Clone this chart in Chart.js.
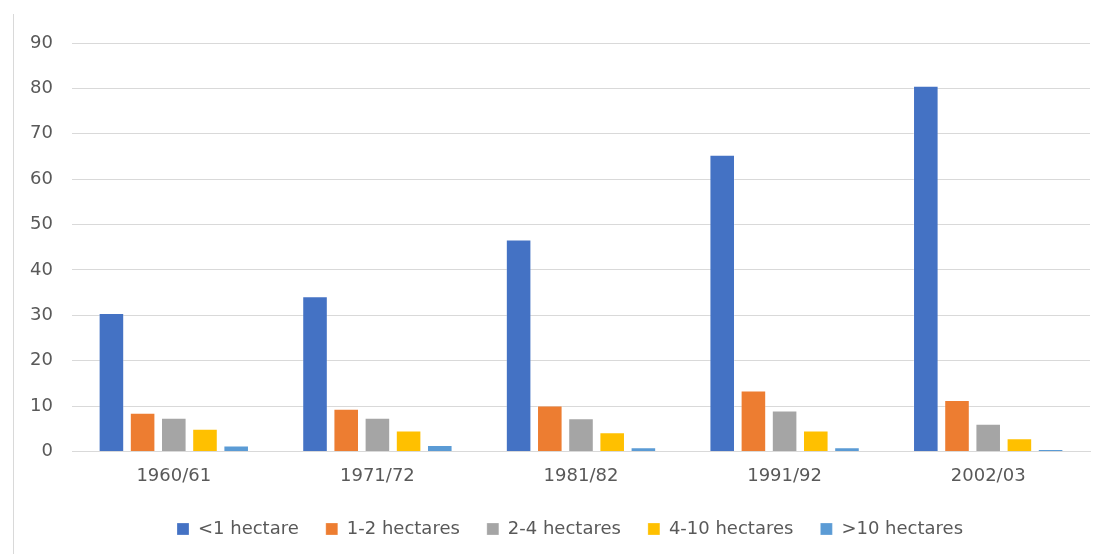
<!DOCTYPE html>
<html>
<head>
<meta charset="utf-8">
<script src="https://cdn.jsdelivr.net/npm/chart.js@4"></script>
<style>
  html, body { margin: 0; padding: 0; background: #fff; }
  #wrap { position: relative; width: 1104px; height: 554px; }
  #edge { position: absolute; left: 13px; top: 14px; bottom: 0; border-left: 1px solid #d9d9d9; }
  canvas { position: absolute; left: 0; top: 0; }
</style>
</head>
<body>
<div id="wrap">
  <div id="edge"></div>
  <canvas id="farmChart" width="1104" height="554"></canvas>
</div>
<script>
const years = ['1960/61', '1971/72', '1981/82', '1991/92', '2002/03'];
const seriesNames = ['<1 hectare', '1-2 hectares', '2-4 hectares', '4-10 hectares', '>10 hectares'];
const below1 = [30.5, 34.2, 46.7, 65.4, 80.6];
const from1to2 = [8.5, 9.4, 10.1, 13.4, 11.3];
const from2to4 = [7.4, 7.4, 7.3, 9.0, 6.1];
const from4to10 = [5.0, 4.6, 4.2, 4.6, 2.9];
const above10 = [1.3, 1.4, 0.9, 0.9, 0.5];
const yTicks = [0, 10, 20, 30, 40, 50, 60, 70, 80, 90];

const colors = ['#4472C4', '#ED7D31', '#A5A5A5', '#FFC000', '#5B9BD5'];
const values = [below1, from1to2, from2to4, from4to10, above10];

const font = { family: '"DejaVu Sans", sans-serif', size: 18 };

// centre the legend under the plot area rather than the whole canvas
const legendShift = {
  id: 'legendShift',
  afterLayout(chart) {
    chart.legend.left += 25;
    chart.legend.right += 25;
  }
};

new Chart(document.getElementById('farmChart'), {
  type: 'bar',
  data: {
    labels: years,
    datasets: values.map((v, i) => ({
      label: seriesNames[i],
      data: v,
      backgroundColor: colors[i],
      borderColor: 'rgba(255,255,255,0.25)',
      borderWidth: 1,
      categoryPercentage: 0.766,
      barPercentage: 0.82
    }))
  },
  plugins: [legendShift],
  options: {
    responsive: false,
    animation: false,
    layout: { padding: { left: 0, right: 14, top: 43, bottom: 6 } },
    plugins: {
      tooltip: { enabled: false },
      legend: {
        position: 'bottom',
        labels: {
          color: '#595959',
          font: font,
          boxWidth: 12,
          boxHeight: 12,
          padding: 27
        }
      }
    },
    scales: {
      x: {
        grid: { display: false },
        border: { color: '#d9d9d9', width: 1 },
        ticks: { color: '#595959', font: font, padding: 6 }
      },
      y: {
        min: 0,
        max: 90,
        afterBuildTicks: s => { s.ticks = yTicks.map(v => ({ value: v })); },
        afterFit: s => { s.width = 72; },
        grid: { color: '#d9d9d9', drawTicks: false },
        border: { display: false },
        ticks: { color: '#595959', font: font, padding: 19 }
      }
    }
  }
});
</script>
</body>
</html>
